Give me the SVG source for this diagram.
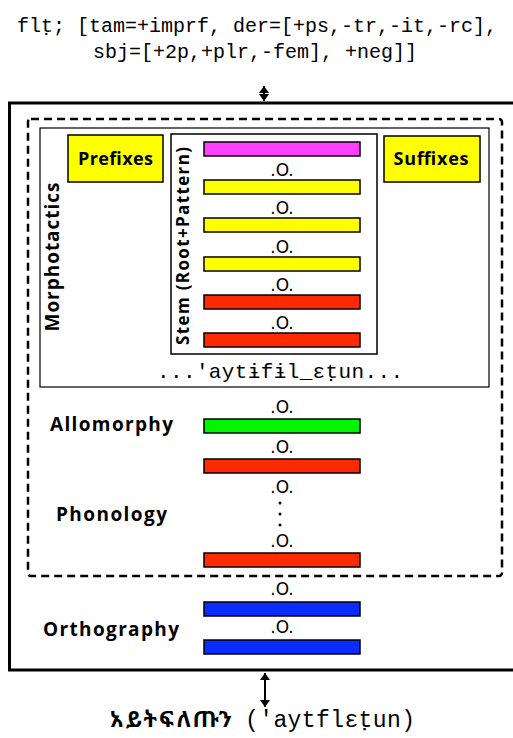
<svg xmlns="http://www.w3.org/2000/svg" width="513" height="738" viewBox="0 0 513 738">
<defs>
<style>
.mono{font-family:"Liberation Mono","Courier New",monospace;fill:#000}
.lbl{font-family:"Open Sans","DejaVu Sans",sans-serif;font-weight:bold;fill:#000}
.op{font-family:"DejaVu Sans",sans-serif;font-size:17px;fill:#000;text-anchor:middle}
.bar{stroke:#000;stroke-width:1.5}
.box{fill:#ffff00;stroke:#000;stroke-width:1.5}
.ln{stroke:#000;stroke-width:2;fill:none}
</style>
<marker id="ah" viewBox="0 0 7 10" refX="7" refY="5" markerWidth="7" markerHeight="10" markerUnits="userSpaceOnUse" orient="auto-start-reverse">
<path d="M0,0 L7,5 L0,10 z" fill="#000"/>
</marker>
</defs>
<rect width="513" height="738" fill="#fff"/>

<g id="top-label">
<text class="mono" x="257" y="32" font-size="20" text-anchor="middle">flṭ; [tam=+imprf, der=[+ps,-tr,-it,-rc],</text>
<text class="mono" x="255" y="58" font-size="20" text-anchor="middle">sbj=[+2p,+plr,-fem], +neg]]</text>
</g>

<g id="outer">
<rect x="9.5" y="103" width="520" height="567" fill="none" stroke="#000" stroke-width="3"/>
</g>

<g id="rules-box">
<rect x="28" y="119" width="474" height="457" rx="3" fill="none" stroke="#000" stroke-width="2.5" stroke-dasharray="8,5"/>
</g>

<g id="morphotactics">
<rect x="40" y="128" width="449" height="259" fill="none" stroke="#000" stroke-width="1.2"/>
<text class="lbl" font-size="19" text-anchor="middle" transform="translate(59,257) rotate(-90)" textLength="149">Morphotactics</text>
<text class="mono" x="280" y="378" font-size="21" text-anchor="middle" textLength="246">...'aytɨfɨl_ɛṭun...</text>
</g>

<g id="prefixes">
<rect class="box" x="68" y="135" width="95" height="47"/>
<text class="lbl" x="115.5" y="165" font-size="18" text-anchor="middle" textLength="75">Prefixes</text>
</g>

<g id="suffixes">
<rect class="box" x="384" y="136" width="96" height="46"/>
<text class="lbl" x="431" y="165" font-size="18" text-anchor="middle" textLength="75">Suffixes</text>
</g>

<g id="stem">
<rect x="171" y="134" width="206" height="220" fill="none" stroke="#000" stroke-width="1.5"/>
<text class="lbl" font-size="17" text-anchor="middle" transform="translate(189,246) rotate(-90)" textLength="198">Stem (Root+Pattern)</text>
<rect class="bar" x="204" y="142" width="156" height="14" fill="#ff40ff"/>
<text class="op" x="282" y="176">.O.</text>
<rect class="bar" x="204" y="180" width="156" height="14" fill="#ffff00"/>
<text class="op" x="282" y="214">.O.</text>
<rect class="bar" x="204" y="218" width="156" height="14" fill="#ffff00"/>
<text class="op" x="282" y="253">.O.</text>
<rect class="bar" x="204" y="257" width="156" height="14" fill="#ffff00"/>
<text class="op" x="282" y="291">.O.</text>
<rect class="bar" x="204" y="295" width="156" height="14" fill="#ff2a00"/>
<text class="op" x="282" y="329">.O.</text>
<rect class="bar" x="204" y="333" width="156" height="14" fill="#ff2a00"/>
</g>

<g id="allomorphy">
<text class="lbl" x="50" y="431" font-size="19" textLength="123">Allomorphy</text>
<text class="op" x="282" y="413">.O.</text>
<rect class="bar" x="204" y="419" width="156" height="14" fill="#00f500"/>
<text class="op" x="282" y="453">.O.</text>
</g>

<g id="phonology">
<text class="lbl" x="56" y="521" font-size="19" textLength="111">Phonology</text>
<rect class="bar" x="204" y="459" width="156" height="14" fill="#ff2a00"/>
<text class="op" x="282" y="493">.O.</text>
<circle cx="280" cy="503" r="1.5" fill="#000"/>
<circle cx="280" cy="514" r="1.5" fill="#000"/>
<circle cx="280" cy="525" r="1.5" fill="#000"/>
<text class="op" x="282" y="547">.O.</text>
<rect class="bar" x="204" y="553" width="156" height="14" fill="#ff2a00"/>
</g>

<g id="orthography">
<text class="lbl" x="43" y="636" font-size="19" textLength="136">Orthography</text>
<text class="op" x="282" y="595">.O.</text>
<rect class="bar" x="204" y="602" width="156" height="14" fill="#0a2cff"/>
<text class="op" x="282" y="633">.O.</text>
<rect class="bar" x="204" y="640" width="156" height="14" fill="#0a2cff"/>
</g>

<g id="connectors">
<line class="ln" x1="264" y1="86" x2="264" y2="101" marker-start="url(#ah)" marker-end="url(#ah)"/>
<line class="ln" x1="265" y1="673" x2="265" y2="707" marker-start="url(#ah)" marker-end="url(#ah)"/>
</g>

<g id="bottom-label">
<text x="110" y="727" font-family="'Noto Sans Ethiopic','Noto Serif Ethiopic','Abyssinica SIL','DejaVu Sans',serif" font-weight="bold" font-size="22" textLength="122">አይትፍለጡን</text>
<text class="mono" x="245" y="727" font-size="23" textLength="170">('aytflɛṭun)</text>
</g>
</svg>
